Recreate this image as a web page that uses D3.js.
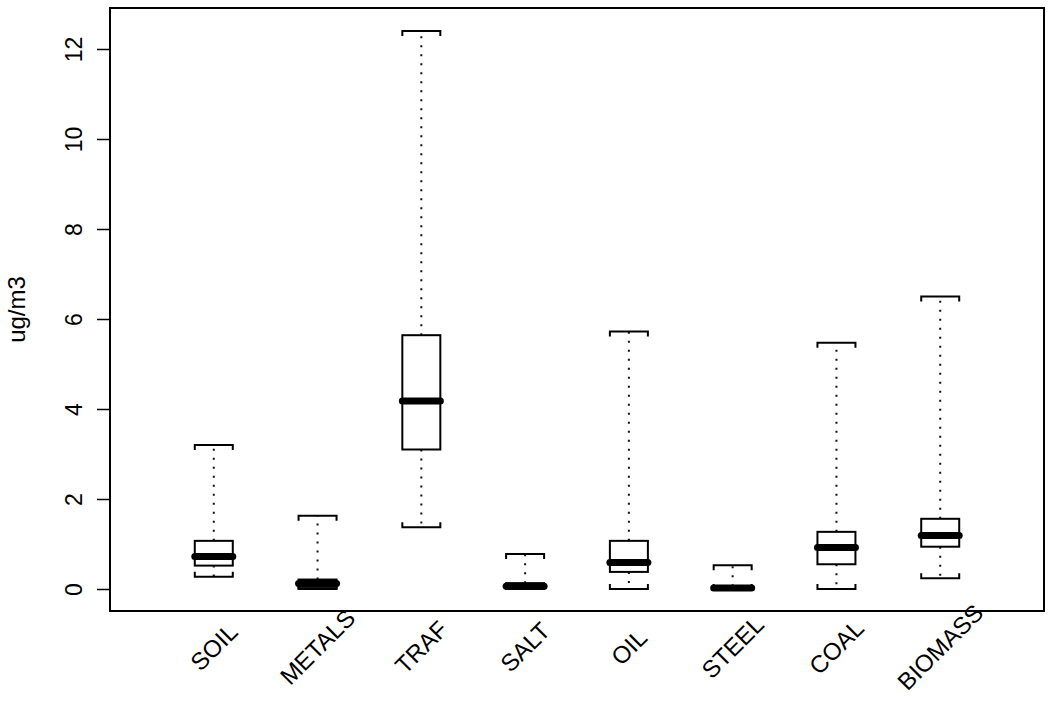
<!DOCTYPE html>
<html>
<head>
<meta charset="utf-8">
<script src="https://cdn.jsdelivr.net/npm/d3@7"></script>
<style>
  html, body { margin: 0; padding: 0; background: #fff; }
  svg { display: block; }
  text { font-family: "Liberation Sans", Arial, Helvetica, sans-serif; fill: #000; }
</style>
</head>
<body>
<svg id="chart" width="1050" height="701"></svg>
<script>
// ---- data ----
const categories = ["SOIL", "METALS", "TRAF", "SALT", "OIL", "STEEL", "COAL", "BIOMASS"];
const whiskerLow  = [0.27, 0.00, 1.37, 0.00, 0.00, 0.00, 0.00, 0.24];
const q1Values    = [0.52, 0.02, 3.10, 0.01, 0.38, 0.00, 0.55, 0.94];
const medians     = [0.72, 0.12, 4.18, 0.06, 0.59, 0.02, 0.92, 1.19];
const q3Values    = [1.07, 0.21, 5.64, 0.13, 1.07, 0.06, 1.27, 1.56];
const whiskerHigh = [3.20, 1.63, 12.40, 0.78, 5.72, 0.53, 5.47, 6.50];
const yTicks = [0, 2, 4, 6, 8, 10, 12];
const yLabel = "ug/m3";

const data = categories.map((c, i) => ({
  name: c, pos: i + 1,
  lo: whiskerLow[i], q1: q1Values[i], med: medians[i], q3: q3Values[i], hi: whiskerHigh[i]
}));

// ---- layout ----
const plot = { left: 110, right: 1044, top: 8, bottom: 611 };
const svg = d3.select("#chart");

const x = d3.scaleLinear().domain([0, categories.length + 1]).range([plot.left, plot.right]);
const y = d3.scaleLinear().domain([0, 12]).range([589, 49]);
const boxHalf = 19;
const leg = 5;

// frame
svg.append("rect")
  .attr("x", plot.left).attr("y", plot.top)
  .attr("width", plot.right - plot.left).attr("height", plot.bottom - plot.top)
  .attr("fill", "none").attr("stroke", "#000").attr("stroke-width", 2);

// y axis
const yAxis = d3.axisLeft(y).tickValues(yTicks).tickSize(13).tickFormat(d3.format("d"));
const gy = svg.append("g").attr("transform", `translate(${plot.left},0)`).call(yAxis);
gy.select(".domain").remove();
gy.selectAll(".tick line").attr("stroke", "#000").attr("stroke-width", 1.5);
gy.selectAll(".tick text")
  .attr("x", null).attr("dy", null)
  .attr("transform", "translate(-28,0) rotate(-90)")
  .attr("text-anchor", "middle")
  .style("font-size", "23px")
  .style("font-family", '"Liberation Sans", Arial, sans-serif');

svg.append("text")
  .attr("transform", `translate(25,${(plot.top + plot.bottom) / 2}) rotate(-90)`)
  .attr("text-anchor", "middle")
  .style("font-size", "24px")
  .text(yLabel);

// boxes
const g = svg.append("g");
const b = g.selectAll("g.box").data(data).enter().append("g").attr("class", "box");

// whiskers (dotted)
b.append("line")
  .attr("x1", d => x(d.pos)).attr("x2", d => x(d.pos))
  .attr("y1", d => y(d.q3)).attr("y2", d => y(d.hi))
  .attr("stroke", "#111").attr("stroke-width", 2).attr("stroke-dasharray", "2 7");
b.append("line")
  .attr("x1", d => x(d.pos)).attr("x2", d => x(d.pos))
  .attr("y1", d => y(d.q1)).attr("y2", d => y(d.lo))
  .attr("stroke", "#111").attr("stroke-width", 2).attr("stroke-dasharray", "2 7");

// staples (bracket shaped)
b.append("path")
  .attr("d", d => `M${x(d.pos) - boxHalf},${y(d.hi) + leg} V${y(d.hi)} H${x(d.pos) + boxHalf} V${y(d.hi) + leg}`)
  .attr("fill", "none").attr("stroke", "#000").attr("stroke-width", 2);
b.append("path")
  .attr("d", d => `M${x(d.pos) - boxHalf},${y(d.lo) - leg} V${y(d.lo)} H${x(d.pos) + boxHalf} V${y(d.lo) - leg}`)
  .attr("fill", "none").attr("stroke", "#000").attr("stroke-width", 2);

// box
b.append("rect")
  .attr("x", d => x(d.pos) - boxHalf)
  .attr("y", d => y(d.q3))
  .attr("width", boxHalf * 2)
  .attr("height", d => Math.max(0, y(d.q1) - y(d.q3)))
  .attr("fill", "#fff").attr("stroke", "#000").attr("stroke-width", 2);

// median
b.append("line")
  .attr("x1", d => x(d.pos) - boxHalf).attr("x2", d => x(d.pos) + boxHalf)
  .attr("y1", d => y(d.med)).attr("y2", d => y(d.med))
  .attr("stroke", "#000").attr("stroke-width", 7).attr("stroke-linecap", "round");

// x labels
svg.append("g").selectAll("text").data(data).enter().append("text")
  .attr("transform", d => `translate(${x(d.pos) + 6},${653}) rotate(-45)`)
  .attr("text-anchor", "middle")
  .style("font-size", "24px")
  .text(d => d.name);
</script>
</body>
</html>
